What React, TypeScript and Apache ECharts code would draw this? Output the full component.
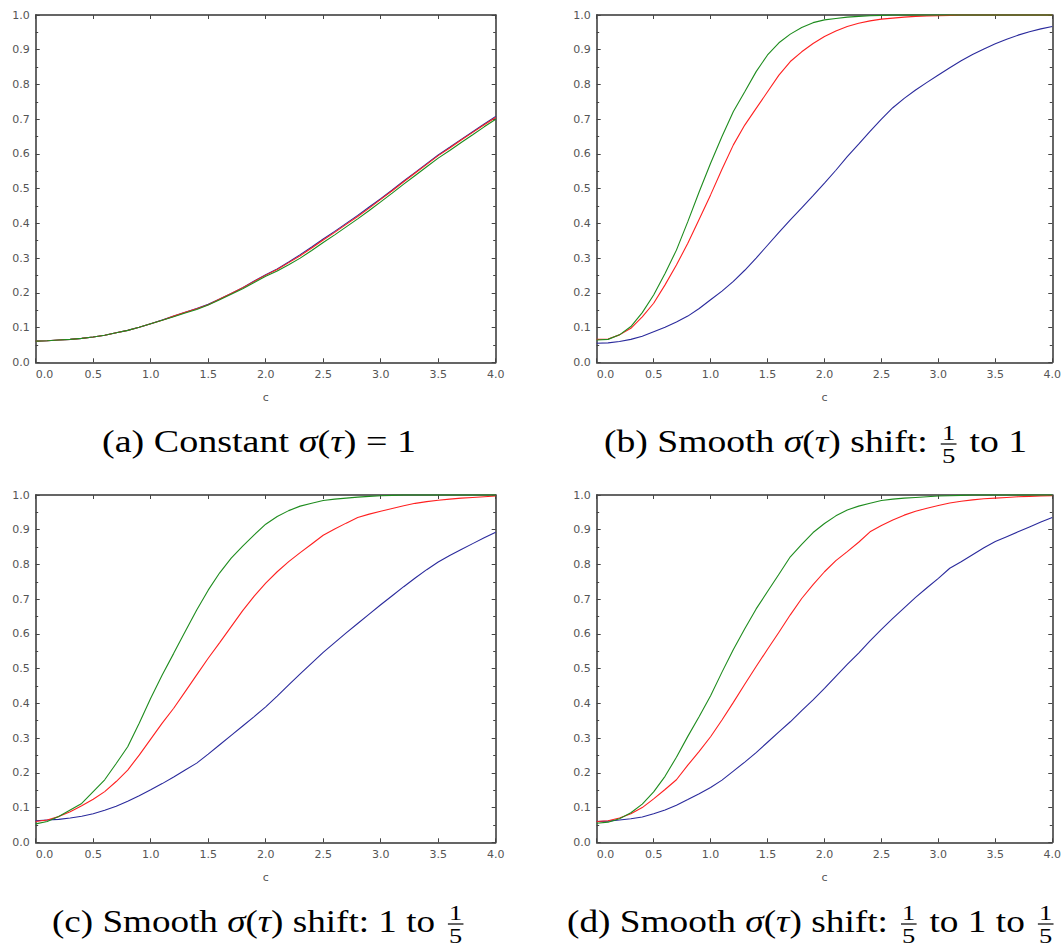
import React, { useEffect, useRef } from "react";
import * as echarts from "echarts";

// c values (x axis), step 0.1
const CS = [0.0, 0.1, 0.2, 0.3, 0.4, 0.5, 0.6, 0.7, 0.8, 0.9, 1.0, 1.1, 1.2, 1.3, 1.4, 1.5, 1.6, 1.7, 1.8, 1.9, 2.0,
  2.1, 2.2, 2.3, 2.4, 2.5, 2.6, 2.7, 2.8, 2.9, 3.0, 3.1, 3.2, 3.3, 3.4, 3.5, 3.6, 3.7, 3.8, 3.9, 4.0];

// (a) Constant sigma
const A_BLUE = [0.061, 0.062, 0.064, 0.066, 0.069, 0.073, 0.078, 0.085, 0.092, 0.101,
  0.111, 0.122, 0.133, 0.144, 0.155, 0.167, 0.182, 0.198, 0.215, 0.234,
  0.252, 0.269, 0.289, 0.310, 0.332, 0.355, 0.377, 0.400, 0.423, 0.447,
  0.471, 0.496, 0.522, 0.547, 0.572, 0.597, 0.619, 0.642, 0.664, 0.686, 0.708];
const A_RED = [0.061, 0.062, 0.064, 0.066, 0.069, 0.073, 0.078, 0.085, 0.092, 0.101,
  0.111, 0.121, 0.133, 0.144, 0.154, 0.166, 0.182, 0.198, 0.215, 0.233,
  0.251, 0.267, 0.287, 0.307, 0.329, 0.352, 0.374, 0.397, 0.420, 0.444,
  0.469, 0.494, 0.520, 0.545, 0.570, 0.595, 0.617, 0.640, 0.662, 0.684, 0.705];
const A_GREEN = [0.061, 0.062, 0.064, 0.066, 0.069, 0.073, 0.078, 0.085, 0.092, 0.101,
  0.111, 0.121, 0.131, 0.142, 0.152, 0.165, 0.180, 0.196, 0.212, 0.230,
  0.248, 0.263, 0.281, 0.300, 0.322, 0.345, 0.367, 0.390, 0.413, 0.437,
  0.462, 0.487, 0.513, 0.538, 0.563, 0.588, 0.610, 0.633, 0.655, 0.678, 0.700];

// (b) 1/5 to 1
const B_BLUE = [0.055, 0.056, 0.060, 0.066, 0.075, 0.088, 0.101, 0.116, 0.133, 0.155,
  0.180, 0.205, 0.233, 0.265, 0.300, 0.337, 0.374, 0.410, 0.445, 0.480,
  0.516, 0.553, 0.592, 0.628, 0.665, 0.700, 0.733, 0.760, 0.784, 0.806,
  0.827, 0.848, 0.868, 0.886, 0.902, 0.917, 0.930, 0.942, 0.952, 0.960, 0.967];
const B_RED = [0.066, 0.067, 0.079, 0.098, 0.131, 0.170, 0.223, 0.280, 0.343, 0.412,
  0.482, 0.556, 0.626, 0.683, 0.731, 0.779, 0.827, 0.866, 0.894, 0.918,
  0.938, 0.954, 0.967, 0.976, 0.983, 0.988, 0.991, 0.994, 0.996, 0.997,
  0.998, 0.999, 1.0, 1.0, 1.0, 1.0, 1.0, 1.0, 1.0, 1.0, 1.0];
const B_GREEN = [0.064, 0.066, 0.079, 0.103, 0.143, 0.194, 0.256, 0.323, 0.405, 0.491,
  0.573, 0.650, 0.722, 0.779, 0.837, 0.885, 0.920, 0.945, 0.964, 0.978,
  0.986, 0.990, 0.994, 0.996, 0.998, 0.999, 1.0, 1.0, 1.0, 1.0,
  1.0, 1.0, 1.0, 1.0, 1.0, 1.0, 1.0, 1.0, 1.0, 1.0, 1.0];

// (c) 1 to 1/5
const C_BLUE = [0.062, 0.064, 0.066, 0.070, 0.075, 0.082, 0.092, 0.104, 0.118, 0.134,
  0.151, 0.169, 0.188, 0.208, 0.228, 0.254, 0.281, 0.308, 0.335, 0.362,
  0.390, 0.421, 0.453, 0.485, 0.516, 0.547, 0.575, 0.603, 0.630, 0.657,
  0.684, 0.710, 0.736, 0.761, 0.785, 0.807, 0.826, 0.843, 0.860, 0.877, 0.893];
const C_RED = [0.060, 0.064, 0.074, 0.088, 0.105, 0.124, 0.146, 0.175, 0.208, 0.251,
  0.297, 0.343, 0.386, 0.434, 0.482, 0.530, 0.575, 0.621, 0.667, 0.709,
  0.746, 0.779, 0.808, 0.834, 0.859, 0.884, 0.902, 0.919, 0.935, 0.945,
  0.953, 0.961, 0.969, 0.976, 0.981, 0.985, 0.988, 0.991, 0.993, 0.995, 0.997];
const C_GREEN = [0.053, 0.060, 0.074, 0.093, 0.112, 0.146, 0.180, 0.227, 0.275, 0.343,
  0.415, 0.482, 0.544, 0.607, 0.669, 0.726, 0.776, 0.818, 0.853, 0.885,
  0.916, 0.938, 0.955, 0.968, 0.976, 0.984, 0.988, 0.991, 0.994, 0.996,
  0.998, 0.999, 1.0, 1.0, 1.0, 1.0, 1.0, 1.0, 1.0, 1.0, 1.0];

// (d) 1/5 to 1 to 1/5
const D_BLUE = [0.060, 0.061, 0.064, 0.068, 0.073, 0.082, 0.093, 0.107, 0.123, 0.140,
  0.158, 0.179, 0.205, 0.231, 0.258, 0.288, 0.318, 0.347, 0.379, 0.410,
  0.443, 0.478, 0.512, 0.545, 0.580, 0.613, 0.645, 0.675, 0.705, 0.733,
  0.760, 0.789, 0.808, 0.828, 0.848, 0.866, 0.880, 0.894, 0.908, 0.922, 0.935];
const D_RED = [0.060, 0.062, 0.070, 0.082, 0.100, 0.125, 0.152, 0.180, 0.222, 0.262,
  0.304, 0.352, 0.403, 0.455, 0.506, 0.556, 0.605, 0.655, 0.702, 0.742,
  0.779, 0.811, 0.837, 0.864, 0.894, 0.912, 0.928, 0.942, 0.953, 0.962,
  0.970, 0.977, 0.982, 0.986, 0.989, 0.991, 0.993, 0.995, 0.996, 0.997, 0.998];
const D_GREEN = [0.055, 0.058, 0.068, 0.085, 0.110, 0.145, 0.190, 0.245, 0.305, 0.362,
  0.422, 0.490, 0.555, 0.615, 0.672, 0.722, 0.772, 0.822, 0.858, 0.892,
  0.918, 0.940, 0.957, 0.968, 0.976, 0.984, 0.988, 0.991, 0.993, 0.995,
  0.997, 0.998, 0.999, 1.0, 1.0, 1.0, 1.0, 1.0, 1.0, 1.0, 1.0];

const PANELS = [
  { blue: A_BLUE, red: A_RED, green: A_GREEN },
  { blue: B_BLUE, red: B_RED, green: B_GREEN },
  { blue: C_BLUE, red: C_RED, green: C_GREEN },
  { blue: D_BLUE, red: D_RED, green: D_GREEN },
];

const X_NAME = "c";
const COLORS = { blue: "#2a2a9c", red: "#ff2020", green: "#1e8c1e" };

const GRIDS = [
  { left: 35.7, top: 15, width: 460, height: 347.3 },
  { left: 596.7, top: 15, width: 459.3, height: 347.3 },
  { left: 35.7, top: 495, width: 460, height: 347.3 },
  { left: 596.7, top: 495, width: 459.3, height: 347.3 },
];

type Seg =
  | { kind: "t"; t: string; it?: boolean }
  | { kind: "sp" }
  | { kind: "f"; num: string; den: string };
const t = (s: string): Seg => ({ kind: "t", t: s });
const m = (s: string): Seg => ({ kind: "t", t: s, it: true });
const sp = (): Seg => ({ kind: "sp" });
const f = (num: string, den: string): Seg => ({ kind: "f", num, den });

const CAPTION_A = [t("(a) Constant"), sp(), m("σ"), t("("), m("τ"), t(")"), sp(), t("="), sp(), t("1")];
const CAPTION_B = [t("(b) Smooth"), sp(), m("σ"), t("("), m("τ"), t(")"), sp(), t("shift:"), sp(), f("1", "5"), sp(), t("to 1")];
const CAPTION_C = [t("(c) Smooth"), sp(), m("σ"), t("("), m("τ"), t(")"), sp(), t("shift: 1 to"), sp(), f("1", "5")];
const CAPTION_D = [t("(d) Smooth"), sp(), m("σ"), t("("), m("τ"), t(")"), sp(), t("shift:"), sp(), f("1", "5"), sp(), t("to 1 to"), sp(), f("1", "5")];

const SERIF = '"Liberation Serif", "DejaVu Serif", serif';
const SANS = '"DejaVu Sans", sans-serif';

let measureCtx: CanvasRenderingContext2D | null = null;
function measure(text: string, size: number, italic: boolean): number {
  if (!measureCtx) measureCtx = document.createElement("canvas").getContext("2d");
  const ctx = measureCtx!;
  ctx.font = `${italic ? "italic " : ""}${size}px ${SERIF}`;
  return ctx.measureText(text).width;
}

function buildCaption(segs: Seg[], left: number, right: number, base: number) {
  const MAIN = 31;
  const SMALL = 22;
  const children: any[] = [];
  let x = 0;
  const central = 0.3375;
  for (const s of segs) {
    if (s.kind === "sp") {
      x += measure(" ", MAIN, false);
    } else if (s.kind === "t") {
      const w = measure(s.t, MAIN, !!s.it);
      children.push({
        type: "text",
        x,
        y: base - central * MAIN,
        style: {
          text: s.t, fontFamily: SERIF, fontSize: MAIN, fontStyle: s.it ? "italic" : "normal",
          fill: "#000", align: "left", verticalAlign: "middle", lineHeight: 34,
        },
      });
      x += w;
    } else {
      const wn = measure(s.num, SMALL, false);
      const wd = measure(s.den, SMALL, false);
      const w = Math.max(wn, wd) + 2;
      const pad = 3;
      const cx = x + pad + w / 2;
      children.push({
        type: "text", x: cx, y: base - 12.5 - central * SMALL,
        style: { text: s.num, fontFamily: SERIF, fontSize: SMALL, fill: "#000", align: "center", verticalAlign: "middle", lineHeight: 15 },
      });
      children.push({
        type: "rect", shape: { x: x + pad, y: base - 8.6, width: w, height: 1.2 },
        style: { fill: "#000" },
      });
      children.push({
        type: "text", x: cx, y: base + 10.5 - central * SMALL,
        style: { text: s.den, fontFamily: SERIF, fontSize: SMALL, fill: "#000", align: "center", verticalAlign: "middle", lineHeight: 15 },
      });
      x += w + 2 * pad;
    }
  }
  return { type: "group", x: left, y: 0, scaleX: (right - left) / x, children };
}

export default function App() {
  const ref = useRef<HTMLDivElement>(null);
  useEffect(() => {
    if (!ref.current) return;
    const chart = echarts.init(ref.current, null, { renderer: "svg" });
    const lineColor = "#333";
    const tickColor = "#444";
    const labelStyle = { color: "#555", fontFamily: SANS, fontSize: 11 };
    const xAxes: any[] = [];
    const yAxes: any[] = [];
    const series: any[] = [];
    GRIDS.forEach((_, i) => {
      const common = {
        gridIndex: i, type: "value", min: 0, max: 4, interval: 0.5,
        axisLine: { show: true, onZero: false, lineStyle: { color: lineColor, width: 1.5 } },
        axisTick: { show: true, inside: true, length: 4, lineStyle: { color: tickColor, width: 1 } },
        splitLine: { show: false },
      };
      xAxes.push({
        ...common, position: "bottom",
        axisLabel: {
          ...labelStyle, margin: 7, showMinLabel: true, showMaxLabel: true, alignMinLabel: "left",
          formatter: (v: number) => v.toFixed(1),
        },
        name: X_NAME, nameLocation: "middle", nameGap: 30,
        nameTextStyle: { ...labelStyle },
      });
      xAxes.push({ ...common, position: "top", axisLabel: { show: false } });
      const ycommon = {
        gridIndex: i, type: "value", min: 0, max: 1, interval: 0.1,
        axisLine: { show: true, onZero: false, lineStyle: { color: lineColor, width: 1.5 } },
        axisTick: { show: true, inside: true, length: 4, lineStyle: { color: tickColor, width: 1 } },
        minorTick: { show: true, splitNumber: 2, length: 2.5, lineStyle: { color: tickColor, width: 1 } },
        splitLine: { show: false },
        minorSplitLine: { show: false },
      };
      yAxes.push({
        ...ycommon, position: "left",
        axisLabel: { ...labelStyle, margin: 6, showMinLabel: true, showMaxLabel: true, formatter: (v: number) => v.toFixed(1) },
      });
      yAxes.push({ ...ycommon, position: "right", axisLabel: { show: false } });

      const p = PANELS[i];
      (["blue", "red", "green"] as const).forEach((k) => {
        series.push({
          type: "line",
          xAxisIndex: 2 * i,
          yAxisIndex: 2 * i,
          data: CS.map((c, j) => [c, p[k][j]]),
          showSymbol: false,
          symbol: "none",
          clip: false,
          lineStyle: { color: COLORS[k], width: 1.1 },
          itemStyle: { color: COLORS[k] },
        });
      });
    });

    chart.setOption({
      animation: false,
      backgroundColor: "#fff",
      grid: GRIDS.map((g) => ({ ...g, containLabel: false })),
      xAxis: xAxes,
      yAxis: yAxes,
      series,
      graphic: [
        buildCaption(CAPTION_A, 102, 416, 452),
        buildCaption(CAPTION_B, 604, 1027, 452),
        buildCaption(CAPTION_C, 52, 467, 932),
        buildCaption(CAPTION_D, 567, 1057, 932),
      ],
    });
    return () => chart.dispose();
  }, []);
  return (
    <div
      ref={ref}
      style={{ position: "absolute", left: 0, top: 0, width: 1064, height: 946, background: "#fff" }}
    />
  );
}
